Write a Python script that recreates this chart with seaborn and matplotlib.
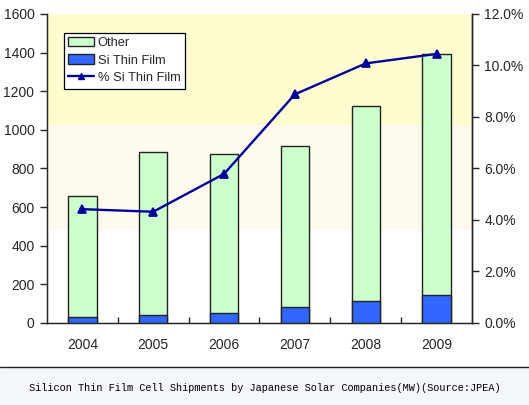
import numpy as np
import matplotlib
matplotlib.use("Agg")
import matplotlib.pyplot as plt
from matplotlib.patches import Patch, Rectangle
from matplotlib.lines import Line2D
from matplotlib.ticker import FuncFormatter, FixedLocator
import seaborn as sns

# values
years = ["2004", "2005", "2006", "2007", "2008", "2009"]
total_mw = [657, 884, 875, 916, 1122, 1393]
si_mw = [33, 41, 50, 81, 115, 145]
si_pct = [4.42, 4.32, 5.79, 8.88, 10.08, 10.45]

caption = "Silicon Thin Film Cell Shipments by Japanese Solar Companies(MW)(Source:JPEA)"

sns.set_style("ticks")
plt.rcParams["font.family"] = ["Liberation Sans", "DejaVu Sans"]

fig = plt.figure(figsize=(5.29, 4.05), dpi=100)
ax = fig.add_axes([0.0888, 0.2025, 0.8034, 0.763])

# soft background bands in the plot area
ax.set_facecolor("white")
ax.axhspan(1025, 1600, color="#FFFDD0", zorder=0, lw=0)
ax.axhspan(480, 1025, color="#FFF9EE", zorder=0, lw=0)

# stacked bars: total (Other on top) then Si Thin Film at the bottom
sns.barplot(x=years, y=total_mw, color="#CCFFCC", edgecolor="#222222",
            linewidth=1, width=0.4, saturation=1, ax=ax, zorder=2)
sns.barplot(x=years, y=si_mw, color="#3366FF", edgecolor="#222222",
            linewidth=1, width=0.4, saturation=1, ax=ax, zorder=3)

ax.set_ylim(0, 1600)
ax.set_yticks(np.arange(0, 1601, 200))
ax.set_xlim(-0.5, 5.5)
ax.set_xlabel("")
ax.set_ylabel("")
ax.tick_params(axis="y", direction="out", length=5, width=1, labelsize=10, pad=4)
ax.tick_params(axis="x", which="major", length=0, labelsize=10, pad=11)
ax.xaxis.set_minor_locator(FixedLocator([0.5, 1.5, 2.5, 3.5, 4.5]))
ax.tick_params(axis="x", which="minor", direction="in", length=4, width=1)
for s in ["left", "bottom", "right"]:
    ax.spines[s].set_linewidth(1)
    ax.spines[s].set_color("#222222")
ax.spines["top"].set_visible(False)

# percent line on the right axis
ax2 = ax.twinx()
sns.pointplot(x=years, y=si_pct, color="#000099", markers="^", linestyles="-",
              markersize=6, linewidth=1.7, ax=ax2)
ax2.set_ylim(0, 12)
ax2.set_yticks(np.arange(0, 12.1, 2))
ax2.yaxis.set_major_formatter(FuncFormatter(lambda v, p: f"{v:.1f}%"))
ax2.set_xlim(-0.5, 5.5)
ax2.set_ylabel("")
ax2.tick_params(axis="y", direction="out", length=5, width=1, labelsize=10, pad=4)
ax2.spines["top"].set_visible(False)
ax2.spines["right"].set_linewidth(1)
ax2.spines["right"].set_color("#222222")

handles = [
    Patch(facecolor="#CCFFCC", edgecolor="#222222", linewidth=1, label="Other"),
    Patch(facecolor="#3366FF", edgecolor="#222222", linewidth=1, label="Si Thin Film"),
    Line2D([], [], color="#000099", marker="^", markersize=5, linewidth=1.7,
           label="% Si Thin Film"),
]
leg = ax2.legend(handles=handles, loc="upper left", bbox_to_anchor=(0.04, 0.94),
                 fontsize=9.3, frameon=True, fancybox=False, edgecolor="black",
                 framealpha=1, borderpad=0.35, labelspacing=0.4, handlelength=2.0,
                 handleheight=0.75, handletextpad=0.25, borderaxespad=0)
leg.get_frame().set_linewidth(0.9)

# caption strip at the bottom
fig.patches.append(Rectangle((0, 0), 1, 37 / 405, transform=fig.transFigure,
                             facecolor="#F3F6FA", edgecolor="none", zorder=0))
fig.lines.append(Line2D([0, 1], [38 / 405, 38 / 405], transform=fig.transFigure,
                        color="#222222", linewidth=1))
fig.text(0.5, 17 / 405, caption, ha="center", va="center", fontsize=7.4,
         family=["Liberation Mono", "DejaVu Sans Mono"], color="#000000")

fig.savefig("out.png", dpi=100)
